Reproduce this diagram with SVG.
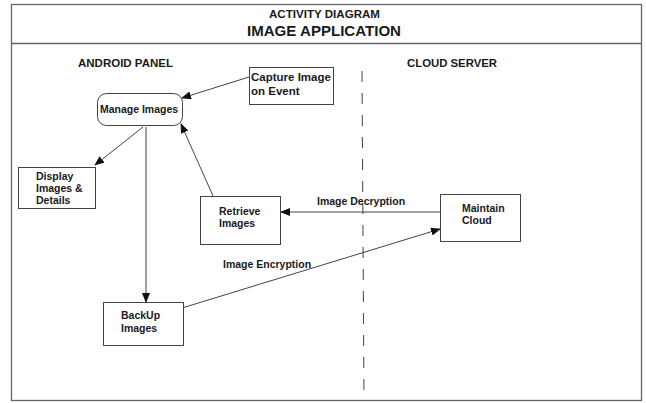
<svg xmlns="http://www.w3.org/2000/svg" width="646" height="403" viewBox="0 0 646 403">
<style>
text{font-family:"Liberation Sans",Arial,sans-serif;font-weight:bold;fill:#1a1a1a;font-size:10.5px}
.box{fill:#fff;stroke:#444;stroke-width:1}
.con{fill:none;stroke:#444;stroke-width:1}
.frame{fill:#fff;stroke:#666;stroke-width:1.3}
.hd{font-size:11px}
.big{font-size:11.5px}
</style>
<defs>
<marker id="ah" markerWidth="10" markerHeight="8" refX="9" refY="4" orient="auto" markerUnits="userSpaceOnUse">
<path d="M0,0 L10,4 L0,8 Z" fill="#111"/>
</marker>
</defs>
<rect width="646" height="403" fill="#fff"/>
<g id="frame">
<rect class="frame" x="11.5" y="4.5" width="630" height="396"/>
<line x1="11.5" y1="43.5" x2="641.5" y2="43.5" stroke="#666" stroke-width="1.3"/>
<text x="324.5" y="18" text-anchor="middle" style="font-size:11px" textLength="111" lengthAdjust="spacingAndGlyphs">ACTIVITY DIAGRAM</text>
<text x="324" y="35.5" text-anchor="middle" style="font-size:14.2px" textLength="154" lengthAdjust="spacingAndGlyphs">IMAGE APPLICATION</text>
<text class="hd" x="78" y="67" textLength="95" lengthAdjust="spacingAndGlyphs">ANDROID PANEL</text>
<text class="hd" x="407" y="67" textLength="90" lengthAdjust="spacingAndGlyphs">CLOUD SERVER</text>
<line x1="362" y1="71" x2="364" y2="401" stroke="#444" stroke-width="1" stroke-dasharray="11,11"/>
</g>
<g id="connectors">
<line class="con" x1="249" y1="77" x2="182" y2="98" marker-end="url(#ah)"/>
<line class="con" x1="143" y1="127" x2="95" y2="165" marker-end="url(#ah)"/>
<line class="con" x1="146" y1="127" x2="146" y2="302" marker-end="url(#ah)"/>
<line class="con" x1="213" y1="196" x2="181" y2="124" marker-end="url(#ah)"/>
<line class="con" x1="440" y1="212" x2="281" y2="212" marker-end="url(#ah)"/>
<line class="con" x1="182" y1="308" x2="440" y2="229" marker-end="url(#ah)"/>
<text x="317" y="205">Image Decryption</text>
<text x="223" y="268">Image Encryption</text>
</g>
<g id="capture">
<rect class="box" x="249.5" y="67.5" width="84" height="37"/>
<text class="big" x="251" y="81">Capture Image</text>
<text class="big" x="251" y="95">on Event</text>
</g>
<g id="manage">
<rect class="box" x="97.5" y="93.5" width="85" height="32" rx="9"/>
<text x="139" y="113" text-anchor="middle">Manage Images</text>
</g>
<g id="display">
<rect class="box" x="18.5" y="167.5" width="77" height="41"/>
<text x="36" y="180">Display</text>
<text x="36" y="192">Images &amp;</text>
<text x="36" y="204">Details</text>
</g>
<g id="retrieve">
<rect class="box" x="200.5" y="196.5" width="80" height="48"/>
<text x="219" y="215">Retrieve</text>
<text x="219" y="227">Images</text>
</g>
<g id="maintain">
<rect class="box" x="440.5" y="194.5" width="80" height="47"/>
<text x="462" y="212">Maintain</text>
<text x="462" y="224">Cloud</text>
</g>
<g id="backup">
<rect class="box" x="103.5" y="302.5" width="80" height="43"/>
<text x="121" y="319">BackUp</text>
<text x="121" y="332">Images</text>
</g>
</svg>
